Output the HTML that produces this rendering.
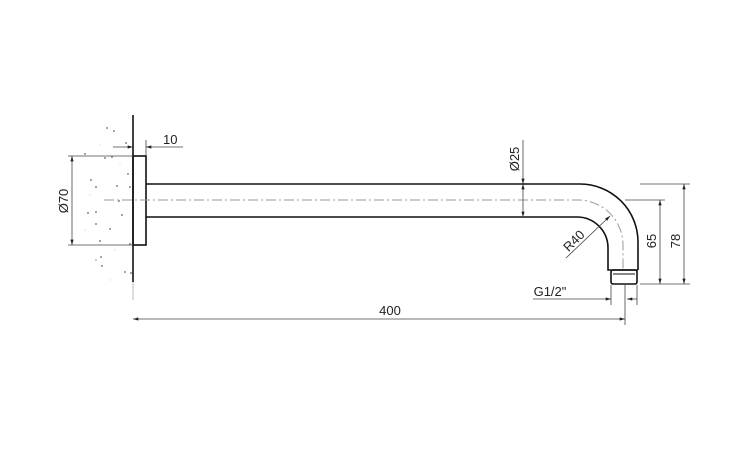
<!DOCTYPE html>
<html><head><meta charset="utf-8"><style>
html,body{margin:0;padding:0;background:#fff;}
svg{display:block;}
text{font-family:"Liberation Sans",sans-serif;font-size:13px;fill:#222;}
</style></head><body>
<svg width="740" height="472" viewBox="0 0 740 472" xmlns="http://www.w3.org/2000/svg">
<defs>
<marker id="a" viewBox="0 0 10 6" refX="10" refY="3" markerWidth="8" markerHeight="4" orient="auto-start-reverse"><path d="M0,0 L10,3 L0,6z" fill="#222"/></marker>
</defs>
<g fill="#888">
<circle cx="107" cy="128" r="1"/><circle cx="114" cy="131" r="1"/><circle cx="126" cy="143" r="1"/>
<circle cx="85" cy="154" r="1"/><circle cx="105" cy="158" r="1"/><circle cx="112" cy="157" r="1"/>
<circle cx="128" cy="174" r="1"/><circle cx="91" cy="180" r="1"/><circle cx="96" cy="187" r="1"/>
<circle cx="117" cy="186" r="1"/><circle cx="130" cy="187" r="1"/><circle cx="119" cy="201" r="1"/>
<circle cx="88" cy="213" r="1"/><circle cx="96" cy="212" r="1"/><circle cx="122" cy="215" r="1"/>
<circle cx="96" cy="224" r="1"/><circle cx="110" cy="229" r="1"/><circle cx="100" cy="241" r="1"/>
<circle cx="130" cy="244" r="1"/><circle cx="101" cy="257" r="1"/><circle cx="102" cy="266" r="1"/>
<circle cx="125" cy="272" r="1"/><circle cx="131" cy="273" r="1"/><circle cx="96" cy="260" r="0.8"/>
</g>
<g fill="#ddd"><circle cx="100" cy="145" r="0.7"/><circle cx="90" cy="195" r="0.7"/><circle cx="115" cy="250" r="0.7"/><circle cx="85" cy="230" r="0.7"/><circle cx="120" cy="165" r="0.7"/><circle cx="110" cy="280" r="0.7"/></g>
<line x1="133" y1="115" x2="133" y2="282" stroke="#111" stroke-width="1.6"/>
<line x1="133" y1="282" x2="133" y2="300" stroke="#bbb" stroke-width="1"/>
<rect x="133" y="156" width="13" height="89" fill="none" stroke="#111" stroke-width="1.6"/>
<path d="M146,184 L580,184 A58,58 0 0 1 638,242 L638,270" fill="none" stroke="#111" stroke-width="1.6"/>
<path d="M146,217 L577,217 A31,31 0 0 1 608,248 L608,270 L638,270" fill="none" stroke="#111" stroke-width="1.6"/>
<rect x="611" y="270" width="26" height="14" rx="2" fill="none" stroke="#111" stroke-width="1.6"/>
<line x1="613" y1="274" x2="635" y2="274" stroke="#111" stroke-width="1"/>
<path d="M104,200 L578,200 A45,45 0 0 1 623,245 L623,270" fill="none" stroke="#999" stroke-width="1" stroke-dasharray="10,3,2,3"/>
<g stroke="#444" stroke-width="0.8" fill="none">
<line x1="146" y1="140" x2="146" y2="156"/>
<line x1="113" y1="147" x2="133" y2="147" marker-end="url(#a)"/>
<line x1="146" y1="147" x2="183" y2="147" marker-start="url(#a)"/>
<line x1="68" y1="156" x2="133" y2="156"/>
<line x1="68" y1="245" x2="133" y2="245"/>
<line x1="72" y1="156" x2="72" y2="245" marker-start="url(#a)" marker-end="url(#a)"/>
<line x1="523" y1="140" x2="523" y2="184" marker-end="url(#a)"/>
<line x1="523" y1="184" x2="523" y2="217" marker-start="url(#a)" marker-end="url(#a)"/>
<line x1="625" y1="285" x2="625" y2="325"/>
<line x1="133" y1="319" x2="625" y2="319" marker-start="url(#a)" marker-end="url(#a)"/>
<line x1="611" y1="285" x2="611" y2="305"/>
<line x1="637" y1="285" x2="637" y2="305"/>
<line x1="533" y1="299" x2="611" y2="299" marker-end="url(#a)"/>
<line x1="637" y1="299" x2="627" y2="299" marker-end="url(#a)"/>
<line x1="640" y1="184" x2="690" y2="184"/>
<line x1="640" y1="284" x2="690" y2="284"/>
<line x1="684" y1="184" x2="684" y2="284" marker-start="url(#a)" marker-end="url(#a)"/>
<line x1="625" y1="200" x2="665" y2="200"/>
<line x1="660" y1="200" x2="660" y2="284" marker-start="url(#a)" marker-end="url(#a)"/>
<line x1="566" y1="258" x2="610" y2="216" marker-end="url(#a)"/>
</g>
<text x="163" y="144">10</text>
<text x="0" y="0" transform="translate(68,201) rotate(-90)" text-anchor="middle">Ø70</text>
<text x="0" y="0" transform="translate(519,159) rotate(-90)" text-anchor="middle">Ø25</text>
<text x="390" y="315" text-anchor="middle">400</text>
<text x="550" y="296" text-anchor="middle">G1/2"</text>
<text x="0" y="0" transform="translate(577,244) rotate(-45)" text-anchor="middle">R40</text>
<text x="0" y="0" transform="translate(656,241) rotate(-90)" text-anchor="middle">65</text>
<text x="0" y="0" transform="translate(680,241) rotate(-90)" text-anchor="middle">78</text>
</svg>
</body></html>
